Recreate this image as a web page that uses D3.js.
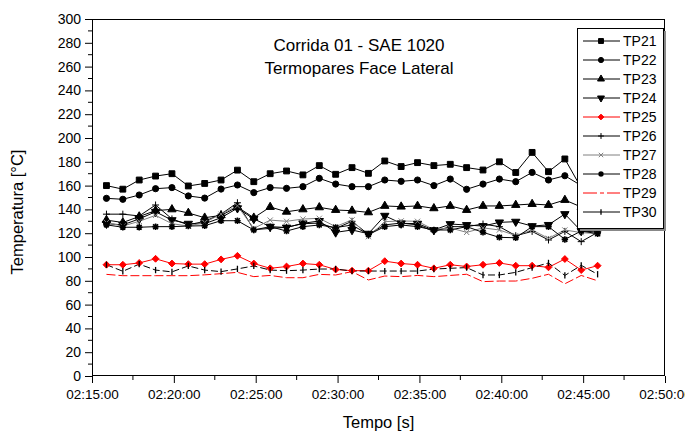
<!DOCTYPE html>
<html><head><meta charset="utf-8">
<script src="https://cdn.jsdelivr.net/npm/d3@7"></script>
<style>body{margin:0;background:#fff} svg{display:block;font-family:Arial,"Liberation Sans",sans-serif}</style>
</head><body><svg id="c" width="685" height="436"></svg>
<script>
const times = ["02:15:53","02:16:53","02:17:53","02:18:53","02:19:53","02:20:53","02:21:53","02:22:53","02:23:53","02:24:53","02:25:53","02:26:53","02:27:53","02:28:53","02:29:53","02:30:53","02:31:53","02:32:53","02:33:53","02:34:53","02:35:53","02:36:53","02:37:53","02:38:53","02:39:53","02:40:53","02:41:53","02:42:53","02:43:53","02:44:53","02:45:53"];
const tp21 = [160,157,164.7,168,170,159.7,161.8,164.7,173,163.3,170,172.3,169,176.8,169.5,175.1,170.3,180.7,176,179.3,176.8,177.9,175.1,173.1,180,171,187.9,171.7,182.4,158,165];
const tp22 = [149.3,148.5,152.1,157.4,158.3,151.3,149.5,157.1,160.5,154.1,158.3,157.7,159.1,166.1,161.3,159.1,159.1,164.7,163.6,164.7,160,165.5,156.9,161.3,165.5,163.3,171.1,164.7,168.3,160,162];
const tp23 = [131,129,134,139,140,137,133,135,142,133,142,138,140,141.7,139.5,138.9,137.5,142.9,142.3,142.9,140.9,142.9,139.5,142.9,142.9,143.7,144.5,143.7,147.9,142,140];
const tp24 = [128,127,132,138,131,128,128,133,141,132,125.5,124.8,128.3,130.3,120.7,122.7,119.6,134.7,128.3,128,122.7,127.7,126.9,126,129.1,129.7,126,127,136.1,121.8,121];
const tp25 = [93.5,93.5,95,98.5,94.5,94,94,98,101,94.5,90.5,92,94.5,93.5,89.5,88.5,88.5,96.5,94.5,93.5,90.5,93.5,92,93.5,95,92.7,92.7,91.3,98.3,89,92.7];
const tp26 = [136,136,134.5,143.7,132,127,130,136,145.6,123,124,125,128,128.5,124,130,119,127,128.5,127,121.5,125.5,125.5,127.7,125.5,117.9,121.5,114.3,121.5,112.9,120.7];
const tp27 = [129,126,130,135,128,126,129,136,143,124,131,130,131.9,132.5,125.5,131.2,117.1,129.7,130.3,130,123,124.5,120.7,124.5,122.7,118,122.7,115.7,122.7,120.5,119.6];
const tp28 = [127,125,125,125.5,125.5,126,126.3,130.5,130.5,122.7,125.5,121.8,125.5,126.9,124.7,126.9,118.8,125.5,126.9,125.5,122.7,122.7,125.5,120.7,116.5,116.2,125.5,125.5,114.8,121.8,119.6];
const tp29 = [85.4,84.3,84.3,84.3,84.3,84.3,85,86,87.1,83.5,84.5,82.6,82.6,85.4,84.9,87.7,80.7,84,83.5,84.5,83.5,84.5,85.5,79.3,79.8,79.8,82.1,85.5,77.5,84.5,80];
const tp30 = [93.5,88,94,89,87.5,92.5,89,87.7,90,92.5,89,88.5,89,89.9,89.9,88.2,88.2,88.2,88.2,88.2,89.9,90.5,91.1,84.9,84.9,87.1,91.1,95,84.5,93,85.5];
const seriesNames = ["TP21","TP22","TP23","TP24","TP25","TP26","TP27","TP28","TP29","TP30"];
const xTickLabels = ["02:15:00","02:20:00","02:25:00","02:30:00","02:35:00","02:40:00","02:45:00","02:50:00"];
const yTickValues = [0,20,40,60,80,100,120,140,160,180,200,220,240,260,280,300];
const titleLines = ["Corrida 01 - SAE 1020","Termopares Face Lateral"];

const parse = d3.timeParse("%H:%M:%S");
const fmt = d3.timeFormat("%H:%M:%S");
const svg = d3.select("#c");
const L = 92, R = 665, T = 19, B = 376;
const x = d3.scaleTime().domain([parse("02:15:00"), parse("02:50:00")]).range([L, R]);
const y = d3.scaleLinear().domain([0, 300]).range([B, T]);

// custom symbols
const plus = {draw(c, s){const r=Math.sqrt(s)/2;c.moveTo(-r,0);c.lineTo(r,0);c.moveTo(0,-r);c.lineTo(0,r);}};
const xmark = {draw(c, s){const r=Math.sqrt(s)/2*0.75;c.moveTo(-r,-r);c.lineTo(r,r);c.moveTo(-r,r);c.lineTo(r,-r);}};
const star = {draw(c, s){const r=Math.sqrt(s)/2;const q=r*0.75;c.moveTo(-r,0);c.lineTo(r,0);c.moveTo(0,-r);c.lineTo(0,r);c.moveTo(-q,-q);c.lineTo(q,q);c.moveTo(-q,q);c.lineTo(q,-q);}};
const bar = {draw(c, s){const r=Math.sqrt(s)/2;c.moveTo(0,-r);c.lineTo(0,r);}};
const diamond = {draw(c, s){const r=Math.sqrt(s)/2*1.25;c.moveTo(0,-r);c.lineTo(r,0);c.lineTo(0,r);c.lineTo(-r,0);c.closePath();}};

const vals = [tp21,tp22,tp23,tp24,tp25,tp26,tp27,tp28,tp29,tp30];
const styles = [
 {color:"#000", sym:d3.symbolSquare, size:34, fill:true},
 {color:"#000", sym:d3.symbolCircle, size:30, fill:true},
 {color:"#000", sym:d3.symbolTriangle, size:30, fill:true},
 {color:"#000", sym:d3.symbolTriangle, size:30, fill:true, rot:180},
 {color:"#ff0000", sym:diamond, size:30, fill:true},
 {color:"#000", sym:plus, size:49, fill:false},
 {color:"#808080", sym:xmark, size:49, fill:false},
 {color:"#000", sym:star, size:42, fill:false, sw:1.6},
 {color:"#ff0000", sym:null, dash:"9,3"},
 {color:"#000", sym:bar, size:40, fill:false, dash:"7,3", sw:1.3}
];
const series = seriesNames.map((n,i)=>({name:n, values:vals[i], ...styles[i]}));

// axes
const gx = svg.append("g").attr("transform",`translate(0,${B})`)
  .call(d3.axisBottom(x).tickValues(xTickLabels.map(parse)).tickFormat(fmt).tickSize(7).tickPadding(6));
gx.select(".domain").remove();
gx.selectAll("text").attr("font-size","13.5px").attr("fill","#000").attr("font-family","Arial, 'Liberation Sans', sans-serif");
const xMinor = d3.pairs(xTickLabels.map(parse)).map(([a,b])=>new Date((+a + +b)/2));
svg.append("g").selectAll("line").data(xMinor).join("line")
  .attr("x1",d=>x(d)).attr("x2",d=>x(d)).attr("y1",B).attr("y2",B+4).attr("stroke","#000");

const gy = svg.append("g").attr("transform",`translate(${L},0)`)
  .call(d3.axisLeft(y).tickValues(yTickValues).tickSize(7).tickPadding(4));
gy.select(".domain").remove();
gy.selectAll("text").attr("font-size","14px").attr("fill","#000").attr("font-family","Arial, 'Liberation Sans', sans-serif");
const yMinor = d3.pairs(yTickValues).map(([a,b])=>(a+b)/2);
svg.append("g").selectAll("line").data(yMinor).join("line")
  .attr("x1",L-4).attr("x2",L).attr("y1",d=>y(d)).attr("y2",d=>y(d)).attr("stroke","#000");

// frame
svg.append("rect").attr("x",L+0.5).attr("y",T+0.5).attr("width",R-L-1).attr("height",B-T-1)
  .attr("fill","none").attr("stroke","#000").attr("stroke-width",1);

// axis titles
svg.append("text").attr("x",(L+R)/2).attr("y",428).attr("text-anchor","middle").attr("font-size","16.5px").text("Tempo [s]");
svg.append("text").attr("transform","translate(23,212) rotate(-90)").attr("text-anchor","middle").attr("font-size","16.5px").text("Temperatura [°C]");

// title
svg.append("g").selectAll("text").data(titleLines).join("text")
  .attr("x",359).attr("y",(d,i)=>51+i*23).attr("text-anchor","middle").attr("font-size","17px").text(d=>d);

// series
const line = d3.line().x((d,i)=>x(parse(times[i]))).y(d=>y(d));
const gS = svg.append("g");
series.forEach(s=>{
  gS.append("path").attr("d",line(s.values)).attr("fill","none").attr("stroke",s.color)
    .attr("stroke-width",1).attr("stroke-dasharray",s.dash||null);
});
series.forEach(s=>{
  if(!s.sym) return;
  const sym = d3.symbol().type(s.sym).size(s.size);
  gS.append("g").selectAll("path").data(s.values).join("path")
    .attr("transform",(d,i)=>`translate(${x(parse(times[i]))},${y(d)})${s.rot?` rotate(${s.rot})`:""}`)
    .attr("d",sym)
    .attr("fill",s.fill?s.color:"none")
    .attr("stroke",s.color).attr("stroke-width",s.sw||1);
});

// legend
const LX=577, LY=28, LW=86, LH=200;
const lg = svg.append("g");
lg.append("rect").attr("x",LX+3).attr("y",LY+3).attr("width",LW).attr("height",LH).attr("fill","#888");
lg.append("rect").attr("x",LX+0.5).attr("y",LY+0.5).attr("width",LW).attr("height",LH).attr("fill","#fff").attr("stroke","#000");
series.forEach((s,i)=>{
  const cy = 41 + i*19;
  const g = lg.append("g");
  g.append("line").attr("x1",583).attr("x2",620).attr("y1",cy).attr("y2",cy)
   .attr("stroke",s.color).attr("stroke-width",1).attr("stroke-dasharray",s.name==="TP29"?"14,3,4,3":null);
  if(s.sym){
    g.append("path").attr("transform",`translate(601,${cy})${s.rot?" rotate(180)":""}`)
     .attr("d",d3.symbol().type(s.sym).size(s.size*0.7))
     .attr("fill",s.fill?s.color:"none").attr("stroke",s.color).attr("stroke-width",s.sw||1);
  }
  g.append("text").attr("x",623).attr("y",cy+5).attr("font-size","14px").text(s.name);
});
</script></body></html>
